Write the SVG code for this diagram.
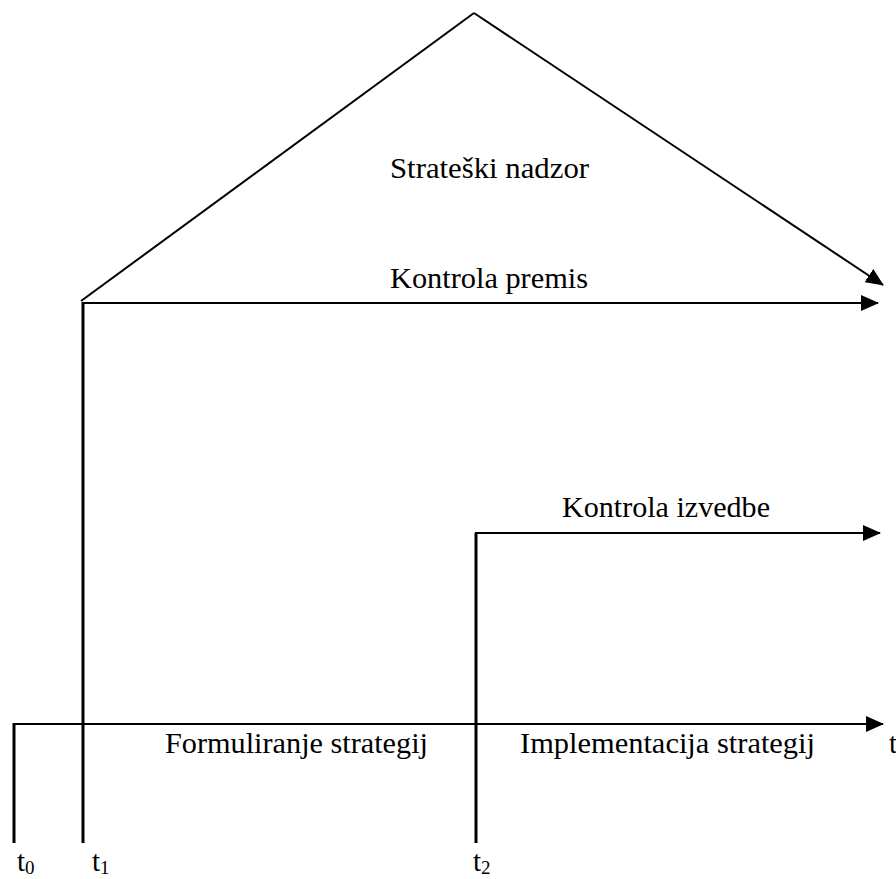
<svg xmlns="http://www.w3.org/2000/svg" width="896" height="879" viewBox="0 0 896 879">
  <style>
    .ln { stroke: #000; stroke-width: 2; fill: none; }
    .post { stroke: #000; stroke-width: 3; fill: none; }
    .lbl { font-family: "Liberation Serif", "Times New Roman", serif; font-size: 30px; fill: #000; }
    .tk { font-family: "Liberation Serif", "Times New Roman", serif; font-size: 29px; fill: #000; }
    .sub { font-size: 19px; }
  </style>
  <defs>
    <marker id="head" markerUnits="userSpaceOnUse" markerWidth="18" markerHeight="16" refX="17" refY="8" orient="auto">
      <path d="M0,0 L18,8 L0,16 Z" fill="#000"/>
    </marker>
  </defs>

  <rect width="896" height="879" fill="#fff"/>

  <g id="connectors">
    <!-- time axis -->
    <line class="ln" x1="14" y1="724" x2="883" y2="724" marker-end="url(#head)"/>
    <!-- milestone posts -->
    <line class="post" x1="14" y1="723" x2="14" y2="843"/>
    <line class="post" x1="83" y1="302" x2="83" y2="843"/>
    <line class="post" x1="476" y1="533" x2="476" y2="843"/>
    <!-- strategic oversight roof -->
    <polyline class="ln" points="81,301 474,13"/>
    <line class="ln" x1="474" y1="13" x2="883" y2="285" marker-end="url(#head)"/>
    <!-- premise control -->
    <line class="ln" x1="82" y1="303" x2="878" y2="303" marker-end="url(#head)"/>
    <!-- implementation control -->
    <line class="ln" x1="475" y1="533" x2="880" y2="533" marker-end="url(#head)"/>
  </g>

  <g id="strateski-nadzor">
    <text class="lbl" x="390" y="178" textLength="199" lengthAdjust="spacingAndGlyphs">Strateški nadzor</text>
  </g>
  <g id="kontrola-premis">
    <text class="lbl" x="390" y="288" textLength="198" lengthAdjust="spacingAndGlyphs">Kontrola premis</text>
  </g>
  <g id="kontrola-izvedbe">
    <text class="lbl" x="562" y="517" textLength="208" lengthAdjust="spacingAndGlyphs">Kontrola izvedbe</text>
  </g>
  <g id="formuliranje">
    <text class="lbl" x="165" y="753" textLength="263" lengthAdjust="spacingAndGlyphs">Formuliranje strategij</text>
  </g>
  <g id="implementacija">
    <text class="lbl" x="520" y="753" textLength="295" lengthAdjust="spacingAndGlyphs">Implementacija strategij</text>
  </g>
  <g id="axis-t">
    <text class="tk" x="889" y="753">t</text>
  </g>
  <g id="ticks">
    <text class="tk" x="17" y="871">t<tspan class="sub" dy="3">0</tspan></text>
    <text class="tk" x="92" y="871">t<tspan class="sub" dy="3">1</tspan></text>
    <text class="tk" x="473" y="871">t<tspan class="sub" dy="3">2</tspan></text>
  </g>
</svg>
